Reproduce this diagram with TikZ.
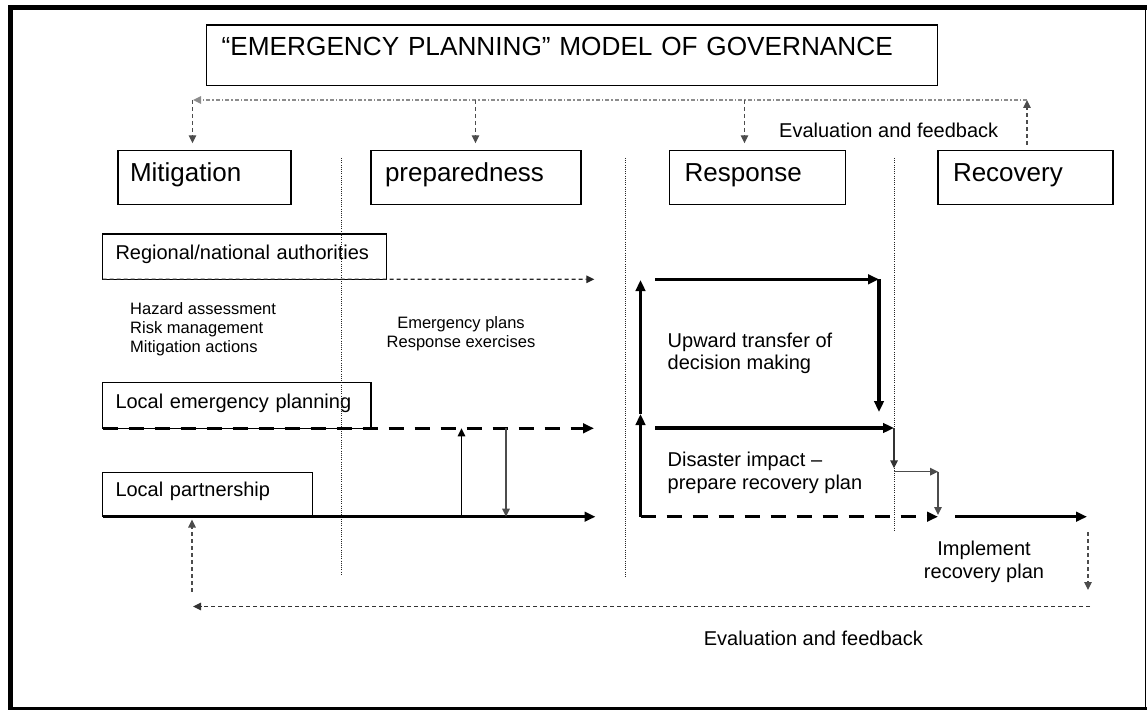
\documentclass[tikz,border=0pt]{standalone}
\usepackage{fontspec}
\setmainfont{Liberation Sans}
\usetikzlibrary{arrows.meta}
\begin{document}
\begin{tikzpicture}[x=1pt,y=-1pt,
  box/.style={draw, line width=1.3pt, anchor=north west, inner ysep=0pt, outer sep=0pt, align=left},
  phase/.style={box, font=\fontsize{26}{30}\selectfont, text height=31pt, text depth=23pt},
  rowbox/.style={box, font=\fontsize{20}{24}\selectfont, inner xsep=13pt},
  txt/.style={inner sep=0pt, font=\fontsize{20}{22.5}\selectfont},
  smalltxt/.style={inner sep=0pt, font=\fontsize{16.5}{19}\selectfont},
  divider/.style={draw=black!85, line width=0.9pt, dash pattern=on 1pt off 1.2pt},
  fbline/.style={draw=black!45, line width=1.3pt, dash pattern=on 4pt off 2pt on 1.5pt off 2pt},
  fbdash/.style={draw=black!70, line width=1.2pt, dash pattern=on 4pt off 3pt},
  thickln/.style={line width=3.5pt},
  thickdash/.style={line width=3.5pt, dash pattern=on 15pt off 11pt},
  thinln/.style={line width=1.5pt},
  big/.style={-{Triangle[length=11pt,width=9.5pt]}},
  sm/.style={-{Triangle[length=8pt,width=7.5pt]}},
]
\useasboundingbox (0,0) rectangle (1147,711);
% frame
\draw[line width=1.5pt] (10.5,8) rectangle (1145.5,708.5);
\draw[line width=5pt] (10.5,5.5) -- (10.5,710);
\draw[line width=5pt] (8,8) -- (1146.5,8);
\draw[line width=2.5pt] (8,708.5) -- (1146.5,708.5);

% title
\node[box, inner xsep=15pt, text width=701pt, text height=31pt, text depth=29.7pt,
      font=\fontsize{26.2}{30}\selectfont] (title) at (206.7,25)
      {“EMERGENCY PLANNING” MODEL OF GOVERNANCE};

% phases
\node[phase, inner xsep=12pt, text width=149pt] (mit) at (118,150.5) {Mitigation};
\node[phase, inner xsep=14pt, text width=182pt] (prep) at (371,150.5) {preparedness};
\node[phase, inner xsep=15pt, text width=145.6pt] (resp) at (669.7,150.5) {Response};
\node[phase, inner xsep=15pt, text width=145pt] (rec) at (938,150.5) {Recovery};

% level boxes
\node[rowbox, text width=257.9pt, text height=25.3pt, text depth=20pt] (reg) at (102.5,234) {Regional/national authorities};
\node[rowbox, text width=242.5pt, text height=25.6pt, text depth=20pt] (lep) at (102.5,382.7) {Local emergency planning};
\node[rowbox, text width=184.3pt, text height=24pt, text depth=20pt] (lp) at (102.5,472.7) {Local partnership};

% free texts (base anchor = baseline of the last line)
\node[smalltxt, anchor=base west, align=left] (haz) at (130,352)
  {Hazard assessment\\Risk management\\Mitigation actions};
\node[smalltxt, anchor=base, align=center] (emp) at (461,347.7)
  {Emergency plans\\Response exercises};
\node[txt, anchor=base west, align=left] (upw) at (667.5,369.5)
  {Upward transfer of\\decision making};
\node[txt, anchor=base west, align=left] (dis) at (667.5,489)
  {Disaster impact –\\prepare recovery plan};
\node[txt, anchor=base, align=center] (imp) at (984,578)
  {Implement\\recovery plan};
\node[txt, anchor=base west] (fbtop) at (779,138) {Evaluation and feedback};
\node[txt, anchor=base west] (fbbot) at (703.6,645.7) {Evaluation and feedback};

% dividers
\draw[divider] (341,158) -- (341,575);
\draw[divider] (625.5,158) -- (625.5,577);
\draw[divider] (894.5,158) -- (894.5,530);

% top feedback loop
\coordinate (fbR) at (1027,100);
\coordinate (fbL) at (193,100);
\coordinate (recup) at (1027,145);
\coordinate (mitdn) at (192.5,100);
\coordinate (mitdnE) at (192.5,143.3);
\coordinate (prepdn) at (475.5,100);
\coordinate (prepdnE) at (475.5,143.3);
\coordinate (respdn) at (744.5,100);
\coordinate (respdnE) at (744.5,143.3);
\draw[fbdash, sm] (recup) -- (fbR);
\draw[fbline, sm] (fbR) -- (fbL);
\draw[fbdash, sm] (mitdn) -- (mitdnE);
\draw[fbdash, sm] (prepdn) -- (prepdnE);
\draw[fbdash, sm] (respdn) -- (respdnE);

% level lines
\coordinate (regE) at (594.3,279.3);
\coordinate (lepE) at (594,428.3);
\coordinate (lpE) at (595.5,516.7);
\draw[fbdash, draw=black!85, sm] (reg.south west) -- (regE);
\draw[thickdash, big] (lep.south west) -- (lepE);
\draw[thickln, big] (lp.south west) -- (lpE);
\coordinate (uA) at (461.5,516.7);
\coordinate (uB) at (461.5,428.3);
\coordinate (dA) at (506,428.3);
\coordinate (dB) at (506,516.7);
\draw[thinln, sm] (uA) -- (uB);
\draw[thinln, draw=black!70, sm] (dA) -- (dB);

% response / recovery flow
\coordinate (c1) at (640.5,516.7);
\coordinate (c2) at (640.5,414);
\coordinate (c3) at (640.5,280);
\coordinate (h1a) at (655,279.3);
\coordinate (h1b) at (879,279.3);
\coordinate (v1b) at (879,412);
\coordinate (h2a) at (655,428);
\coordinate (h2b) at (894,428);
\coordinate (v2b) at (894,468.3);
\coordinate (h3a) at (894,471.7);
\coordinate (h3b) at (938,471.7);
\coordinate (v3b) at (938,515);
\coordinate (dshE) at (938,516.7);
\coordinate (impA) at (955,516.7);
\coordinate (impB) at (1087,516.7);
\draw[thickln, big] (c1) -- (c2);
\draw[thickln, big] (c2) -- (c3);
\draw[thickln, big] (h1a) -- (h1b);
\draw[thickln, big] (h1b) -- (v1b);
\draw[thickln, big] (h2a) -- (h2b);
\draw[thinln, draw=black!80, sm] (h2b) -- (v2b);
\draw[thinln, draw=black!70, sm] (h3a) -- (h3b);
\draw[thinln, draw=black!70, sm] (h3b) -- (v3b);
\draw[thickdash, big] (c1) -- (dshE);
\draw[thickln, big] (impA) -- (impB);

% bottom feedback loop
\coordinate (bR1) at (1088,532);
\coordinate (bR2) at (1088,590);
\coordinate (bLa) at (1090,606.5);
\coordinate (bLb) at (193,606.5);
\coordinate (bU1) at (192,591.7);
\coordinate (bU2) at (192,519.5);
\draw[fbdash, sm] (bR1) -- (bR2);
\draw[fbdash, draw=black!80, sm] (bLa) -- (bLb);
\draw[fbdash, sm] (bU1) -- (bU2);
\end{tikzpicture}
\end{document}
